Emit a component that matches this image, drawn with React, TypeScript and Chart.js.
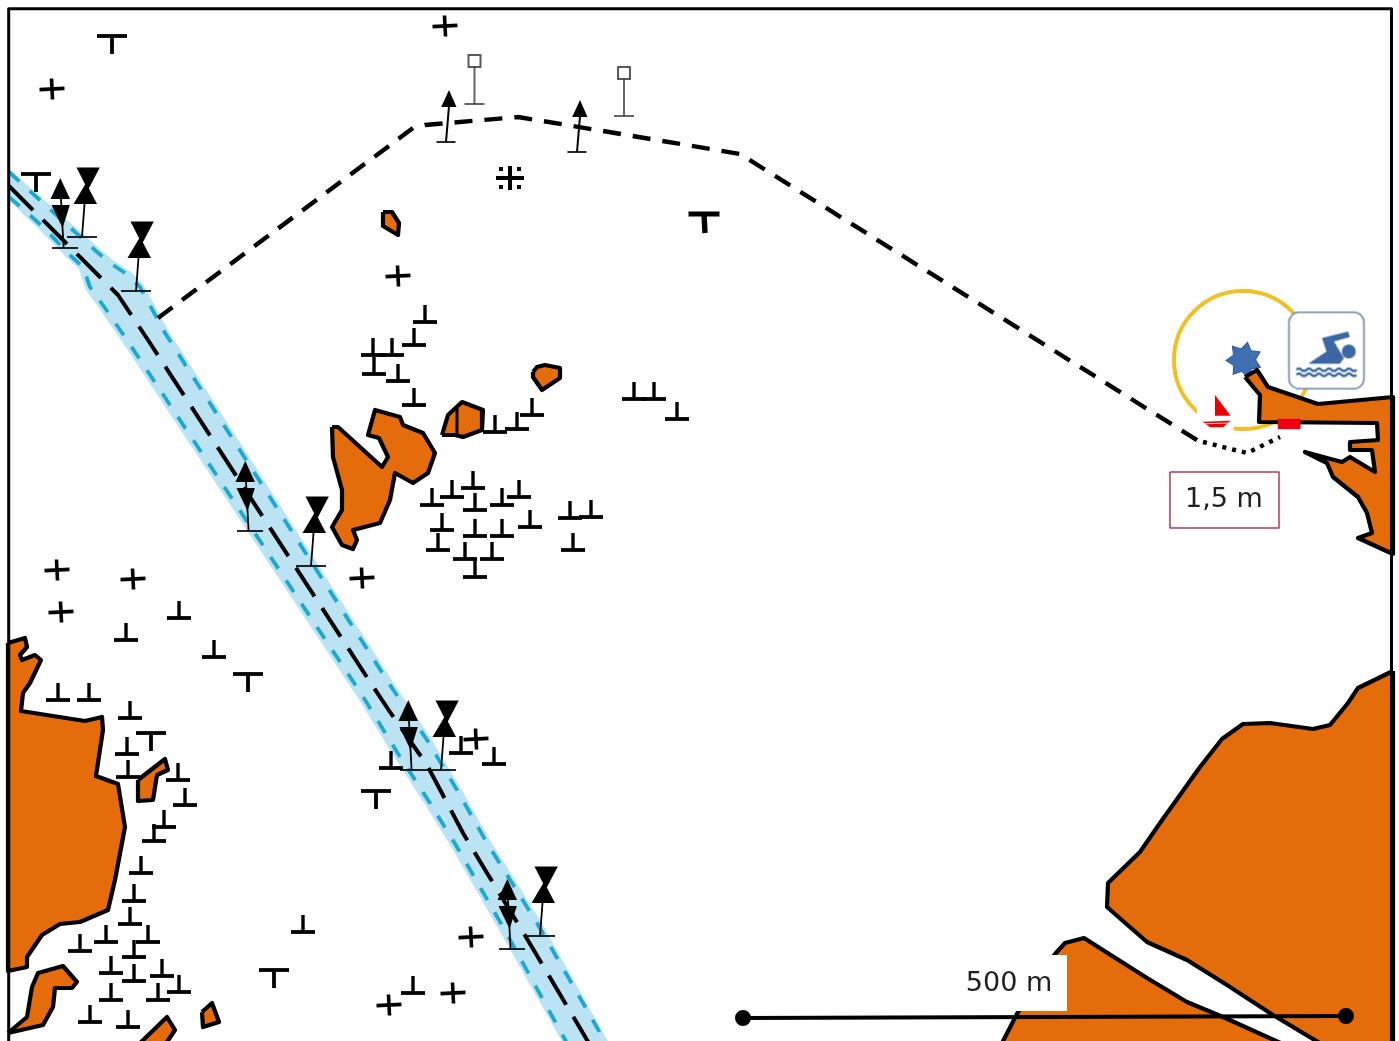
import React, { useEffect, useRef } from "react";
import { Chart, registerables } from "chart.js";

Chart.register(...registerables);

type P = [number, number];

const W = 1399;
const H = 1041;

// Map symbols (positions)
const teeUp: P[] = [
  [425, 322], [414, 345], [373, 355], [392, 355], [374, 374], [398, 381], [414, 405],
  [495, 432], [517, 429], [532, 415], [634, 399], [654, 399], [677, 419],
  [432, 505], [452, 497], [473, 488], [475, 510], [502, 505], [519, 497], [530, 527],
  [442, 530], [475, 536], [502, 536], [438, 550], [465, 559], [492, 559], [475, 577],
  [570, 518], [591, 517], [573, 550],
  [179, 618], [126, 640], [214, 657], [58, 700], [89, 700], [130, 718], [127, 754],
  [128, 777], [178, 780], [185, 805], [164, 827], [154, 841], [141, 873], [134, 901],
  [130, 924], [148, 942], [106, 942], [80, 951], [134, 957], [111, 973], [134, 981],
  [162, 976], [179, 992], [111, 1000], [158, 1000], [90, 1022], [128, 1027], [303, 932],
  [391, 768], [461, 753], [494, 764], [413, 993],
];
const teeDown: P[] = [[112, 36], [36, 174], [248, 674], [151, 733], [274, 970], [376, 791]];
const heavyTee: P[] = [[704, 214]];
const plusMarks: P[] = [
  [445, 26], [52, 89], [398, 276], [362, 578], [57, 570], [133, 579], [61, 612],
  [476, 739], [471, 937], [389, 1005], [453, 993],
];
const snowMarks: P[] = [[510, 178]];
const hourglassBuoys: P[] = [[82, 237], [136, 291], [311, 566], [441, 770], [540, 936]];
const doubleConeBuoys: P[] = [[65, 248], [250, 531], [413, 770], [512, 949]];
const coneBuoys: P[] = [[446, 142], [577, 152]];
const squareBuoys: P[] = [[474.5, 104], [624, 116]];

// Lines
const bandEdgeUpper: P[] = [
  [9, 169], [100, 249], [113, 260], [131, 272], [143, 284], [168, 330], [393, 682], [430, 737],
  [460, 787], [490, 840], [540, 920], [610, 1045],
];
const bandEdgeLower: P[] = [
  [9, 200], [28, 219], [39, 229], [68, 259], [79, 269], [86, 290], [101, 311], [123, 343],
  [358, 698], [393, 755], [426, 806], [453, 850], [499, 930], [564, 1045],
];
const channelUpper: P[] = [
  [9, 172], [97, 252], [110, 263], [128, 275], [140, 287], [165, 333], [390, 685], [427, 740],
  [457, 790], [487, 843], [537, 923], [607, 1045],
];
const channelLower: P[] = [
  [9, 197], [32, 217], [43, 227], [72, 257], [83, 267], [90, 287], [105, 308], [127, 340],
  [362, 695], [397, 752], [430, 803], [457, 847], [503, 927], [568, 1045],
];
const channelCentre: P[] = [
  [9, 186], [100, 277], [118, 295], [148, 340], [372, 685], [390, 712], [427, 765],
  [463, 833], [487, 873], [523, 932], [590, 1045],
];
const route: P[] = [[158, 318], [413, 128], [425, 125], [518, 117], [603, 131], [740, 154], [1200, 442]];
const shallowRoute: P[] = [[1203, 442], [1247, 453], [1280, 437]];
const scaleBar: P[] = [[743, 1018], [1346, 1016]];
const frame: P[] = [[8.7, 1050], [8.7, 8.7], [1391.5, 8.7], [1391.5, 1050]];

// Land
const westLand: P[] = [
  [8, 643], [25, 638], [27, 647], [20, 655], [22, 660], [35, 655], [41, 660], [30, 683],
  [23, 693], [21, 711], [85, 721], [102, 717], [103, 730], [96, 776], [118, 784], [125, 827],
  [115, 880], [108, 910], [80, 922], [60, 924], [42, 935], [27, 957], [27, 967], [8, 971],
];
const southwestIsland: P[] = [
  [8, 1033], [27, 1017], [32, 987], [38, 973], [63, 966], [77, 982], [72, 988], [55, 988],
  [53, 1007], [43, 1025],
];
const islandA: P[] = [[138, 780], [165, 759], [168, 770], [157, 775], [153, 800], [138, 801]];
const islandB: P[] = [[138, 1045], [167, 1017], [175, 1030], [165, 1045]];
const islandC: P[] = [[202, 1012], [212, 1003], [219, 1022], [203, 1027]];
const islandD: P[] = [[383, 212], [392, 212], [399, 223], [398, 235], [383, 226]];
const islandE: P[] = [[533, 372], [537, 367], [545, 365], [560, 368], [560, 378], [542, 390], [533, 377]];
const islandF: P[] = [[442, 435], [448, 415], [462, 402], [483, 410], [482, 430], [463, 437], [455, 435]];
const islandFLine: P[] = [[457, 407], [457, 435]];
const bigIsland: P[] = [
  [332, 427], [338, 427], [382, 467], [388, 457], [379, 438], [368, 435], [375, 410], [400, 417],
  [403, 425], [423, 433], [435, 453], [428, 473], [413, 483], [395, 473], [390, 500], [380, 523],
  [353, 530], [357, 540], [353, 549], [342, 545], [332, 527], [342, 510], [342, 490], [333, 457],
];
const harbourLand: P[] = [
  [1245, 377], [1257, 370], [1268, 387], [1318, 404], [1393, 397], [1393, 554], [1358, 538],
  [1372, 533], [1367, 513], [1358, 497], [1333, 477], [1327, 463], [1305, 452], [1327, 458],
  [1342, 462], [1350, 457], [1375, 472], [1372, 450], [1350, 450], [1350, 442], [1378, 440],
  [1377, 423], [1259, 422], [1260, 395],
];
const southeastLand: P[] = [
  [1393, 671], [1358, 688], [1348, 703], [1330, 725], [1313, 729], [1270, 723], [1243, 724],
  [1222, 739], [1200, 767], [1160, 823], [1140, 852], [1108, 883], [1107, 907], [1147, 942],
  [1187, 960], [1227, 985], [1273, 1015], [1323, 1045], [1393, 1045],
];
const southLand: P[] = [
  [1055, 954], [1065, 943], [1084, 938], [1147, 978], [1187, 1002], [1223, 1017], [1285, 1045],
  [1001, 1045], [1018, 1012],
];
const redBlock: P[] = [[1278, 419], [1300, 419], [1300, 429], [1278, 429]];

// Labels
const depthBox: P[] = [[1170, 472], [1279, 472], [1279, 528], [1170, 528]];
const scaleBox: P[] = [[955, 955], [1067, 955], [1067, 1011], [955, 1011]];
const labelTexts = ["1,5 m", "500 m"];
const labelAnchors: P[] = [[1224, 500], [1009, 984]];
const rangeCentre: P[] = [[1243, 360]];
const starCentre: P[] = [[1244, 360]];
const boatCentre: P[] = [[1215, 413]];
const swimCentre: P[] = [[1326.5, 350.5]];

const ORANGE = "#E46C0A";
const BLACK = "#000000";
const LAND_LINE = 4.2;

function stamp(size: number, draw: (c: CanvasRenderingContext2D) => void): HTMLCanvasElement {
  const cv = document.createElement("canvas");
  cv.width = size;
  cv.height = size;
  const c = cv.getContext("2d") as CanvasRenderingContext2D;
  c.translate(size / 2, size / 2);
  c.strokeStyle = BLACK;
  c.fillStyle = BLACK;
  draw(c);
  return cv;
}
function seg(c: CanvasRenderingContext2D, x1: number, y1: number, x2: number, y2: number, w: number) {
  c.lineWidth = w;
  c.beginPath();
  c.moveTo(x1, y1);
  c.lineTo(x2, y2);
  c.stroke();
}
function tri(c: CanvasRenderingContext2D, pts: number[]) {
  c.beginPath();
  c.moveTo(pts[0], pts[1]);
  for (let i = 2; i < pts.length; i += 2) c.lineTo(pts[i], pts[i + 1]);
  c.closePath();
  c.fill();
}

function makeStamps() {
  return {
    teeUp: stamp(50, (c) => {
      seg(c, -12, 0, 12, 0, 3.8);
      seg(c, 0, 0, 0, -17, 3.4);
    }),
    teeDown: stamp(50, (c) => {
      seg(c, -15, 0, 15, 0, 3.8);
      seg(c, 0, 0, 0, 18, 3.8);
    }),
    heavy: stamp(50, (c) => {
      seg(c, -15.5, 0, 15.5, 0, 5);
      seg(c, 0, 0, 1, 19, 5.4);
    }),
    plus: stamp(50, (c) => {
      c.rotate(-0.05);
      seg(c, -12.5, 0, 12.5, 0, 3.6);
      seg(c, 0, -10.5, 0, 10.5, 3.6);
    }),
    snow: stamp(50, (c) => {
      seg(c, -14, 0, 14, 0, 4);
      seg(c, 0, -12, 0, 12, 4);
      [[-9, -9], [9, -9], [-9, 9], [9, 9]].forEach(([x, y]) => c.fillRect(x - 2, y - 2, 4, 4));
    }),
    hourglass: stamp(170, (c) => {
      seg(c, -15, 0, 15, 0, 1.7);
      seg(c, 0, 0, 2.5, -33, 1.8);
      tri(c, [-8.5, -33, 15, -33, 4, -54]);
      tri(c, [-5.5, -69.5, 17.8, -69.5, 6, -47]);
    }),
    doubleCone: stamp(170, (c) => {
      seg(c, -13, 0, 13, 0, 1.7);
      seg(c, -1.4, 0, -4, -49, 1.8);
      tri(c, [-14.5, -49, 5, -49, -4.7, -70]);
      tri(c, [-13.5, -43, 4.8, -43, -2.4, -20]);
    }),
    cone: stamp(130, (c) => {
      seg(c, -9.5, 0, 9.5, 0, 1.7);
      seg(c, 0, 0, 3, -36, 2);
      tri(c, [-4.8, -35, 10.5, -35, 3, -52]);
    }),
    square: stamp(110, (c) => {
      c.strokeStyle = "#333333";
      seg(c, -10, 0, 10, 0, 1.5);
      seg(c, 0, 0, 0, -37, 1.5);
      c.lineWidth = 1.6;
      c.fillStyle = "#ffffff";
      c.fillRect(-6, -49, 12, 12);
      c.strokeRect(-6, -49, 12, 12);
    }),
    star: stamp(50, (c) => {
      c.rotate(0.2);
      c.beginPath();
      for (let i = 0; i < 14; i++) {
        const r = i % 2 ? 11.5 : 18;
        const a = (i * Math.PI) / 7 - Math.PI / 2;
        c.lineTo(r * Math.cos(a), r * Math.sin(a));
      }
      c.closePath();
      c.fillStyle = "#3F6EB2";
      c.strokeStyle = "#2F5597";
      c.lineWidth = 1;
      c.fill();
      c.stroke();
    }),
    boat: stamp(50, (c) => {
      c.fillStyle = "#ffffff";
      c.fillRect(-18, -19, 37, 37);
      c.fillStyle = "#EE0000";
      tri(c, [0, -18, 15.7, 2.7, 0, 2.7]);
      tri(c, [-12.3, 8.7, 15.7, 7.7, 8.3, 14.3, -5, 14.3]);
      c.strokeStyle = "#ffffff";
      seg(c, -12, 10.8, 15, 10, 0.8);
    }),
    swim: stamp(90, (c) => {
      c.fillStyle = "#ffffff";
      c.strokeStyle = "#6F88A6";
      c.lineWidth = 1.6;
      c.beginPath();
      c.roundRect(-37.5, -38.2, 75, 76.4, 10);
      c.fill();
      c.stroke();
      c.fillStyle = "#3B68A5";
      tri(c, [21.7, -19, 23.3, -13.5, 7.5, -9, 17.5, 7.7, 13.3, 13.3, -18.3, 13.3, 0, 1, -4.5, -12.5]);
      c.beginPath();
      c.arc(22.3, 1, 7, 0, Math.PI * 2);
      c.fill();
      c.strokeStyle = "#3B68A5";
      c.lineWidth = 2.4;
      [19.3, 24.3].forEach((y) => {
        c.beginPath();
        c.moveTo(-30, y);
        for (let x = -30; x < 30; x += 10) {
          c.quadraticCurveTo(x + 2.5, y - 2.5, x + 5, y);
          c.quadraticCurveTo(x + 7.5, y + 2.5, x + 10, y);
        }
        c.stroke();
      });
    }),
  };
}

const xy = (pts: P[]) => pts.map(([x, y]) => ({ x, y }));

function line(pts: P[], color: string, width: number, dash: number[] = []) {
  return {
    data: xy(pts),
    showLine: true,
    borderColor: color,
    borderWidth: width,
    borderDash: dash,
    borderCapStyle: "butt",
    borderJoinStyle: "round",
    pointRadius: 0,
    fill: false,
    tension: 0,
  };
}
function polygon(pts: P[], fillColor: string, stroke: string, width: number) {
  return {
    ...line([...pts, pts[0]], stroke, width),
    polygonFill: fillColor,
    backgroundColor: fillColor,
  };
}
function marks(pts: P[], style: HTMLCanvasElement) {
  return { data: xy(pts), showLine: false, pointStyle: style, pointRadius: 10 };
}

const polygonFillPlugin = {
  id: "polygonFill",
  beforeDatasetDraw(chart: any, args: any) {
    const ds = chart.data.datasets[args.index];
    if (!ds.polygonFill) return;
    const ctx = chart.ctx;
    ctx.save();
    ctx.beginPath();
    args.meta.data.forEach((p: any, i: number) => (i ? ctx.lineTo(p.x, p.y) : ctx.moveTo(p.x, p.y)));
    ctx.closePath();
    ctx.fillStyle = ds.polygonFill;
    ctx.fill();
    ctx.restore();
  },
};
const labelPlugin = {
  id: "mapLabels",
  afterDatasetsDraw(chart: any) {
    const { ctx, scales } = chart;
    ctx.save();
    ctx.font = '27px "DejaVu Sans"';
    ctx.fillStyle = "#1f1f1f";
    ctx.textAlign = "center";
    ctx.textBaseline = "middle";
    labelTexts.forEach((t, i) => {
      ctx.fillText(t, scales.x.getPixelForValue(labelAnchors[i][0]), scales.y.getPixelForValue(labelAnchors[i][1]));
    });
    ctx.restore();
  },
};

export default function App() {
  const ref = useRef<HTMLCanvasElement>(null);
  useEffect(() => {
    const s = makeStamps();
    const layers: any[] = [
      polygon([...bandEdgeUpper, ...[...bandEdgeLower].reverse()], "#BCE3F3", "rgba(0,0,0,0)", 0),
      line(channelUpper, "#1DA9CF", 3.8, [14, 14]),
      line(channelLower, "#1DA9CF", 3.8, [14, 14]),
      line(channelCentre, BLACK, 4, [34, 14]),
      line(route, BLACK, 4.4, [18, 12]),
      line(shallowRoute, BLACK, 4.4, [4, 6]),
      {
        data: xy(rangeCentre),
        showLine: false,
        pointStyle: "circle",
        pointRadius: 69,
        pointBackgroundColor: "rgba(0,0,0,0)",
        pointBorderColor: "#EFC124",
        pointBorderWidth: 4,
      },
      marks(boatCentre, s.boat),
      marks(starCentre, s.star),
      polygon(southLand, ORANGE, BLACK, LAND_LINE),
      polygon(southeastLand, ORANGE, BLACK, LAND_LINE),
      polygon(harbourLand, ORANGE, BLACK, LAND_LINE),
      polygon(westLand, ORANGE, BLACK, LAND_LINE),
      polygon(southwestIsland, ORANGE, BLACK, LAND_LINE),
      polygon(islandA, ORANGE, BLACK, LAND_LINE),
      polygon(islandB, ORANGE, BLACK, LAND_LINE),
      polygon(islandC, ORANGE, BLACK, LAND_LINE),
      polygon(islandD, ORANGE, BLACK, LAND_LINE),
      polygon(islandE, ORANGE, BLACK, LAND_LINE),
      polygon(islandF, ORANGE, BLACK, LAND_LINE),
      line(islandFLine, BLACK, 3),
      polygon(bigIsland, ORANGE, BLACK, LAND_LINE),
      polygon(redBlock, "#EE0011", "#EE0011", 0.5),
      polygon(depthBox, "#ffffff", "#B23A55", 1.5),
      polygon(scaleBox, "#ffffff", "rgba(0,0,0,0)", 0),
      {
        ...line(scaleBar, BLACK, 4),
        pointRadius: 6,
        pointBackgroundColor: BLACK,
        pointBorderColor: BLACK,
      },
      marks(teeUp, s.teeUp),
      marks(teeDown, s.teeDown),
      marks(heavyTee, s.heavy),
      marks(plusMarks, s.plus),
      marks(snowMarks, s.snow),
      marks(hourglassBuoys, s.hourglass),
      marks(doubleConeBuoys, s.doubleCone),
      marks(coneBuoys, s.cone),
      marks(squareBuoys, s.square),
      marks(swimCentre, s.swim),
      line(frame, BLACK, 3),
    ];
    const chart = new Chart(ref.current as HTMLCanvasElement, {
      type: "scatter",
      data: { datasets: [...layers].reverse() },
      plugins: [polygonFillPlugin, labelPlugin],
      options: {
        animation: false,
        responsive: false,
        devicePixelRatio: 1,
        events: [],
        layout: { padding: 0, autoPadding: false },
        plugins: { legend: { display: false }, tooltip: { enabled: false }, title: { display: false } },
        scales: {
          x: { type: "linear", display: false, min: 0, max: W },
          y: { type: "linear", display: false, min: 0, max: H, reverse: true },
        },
      },
    } as any);
    return () => chart.destroy();
  }, []);
  return (
    <canvas
      ref={ref}
      width={W}
      height={H}
      style={{ position: "fixed", left: 0, top: 0, display: "block", filter: "blur(0.4px)" }}
    />
  );
}
